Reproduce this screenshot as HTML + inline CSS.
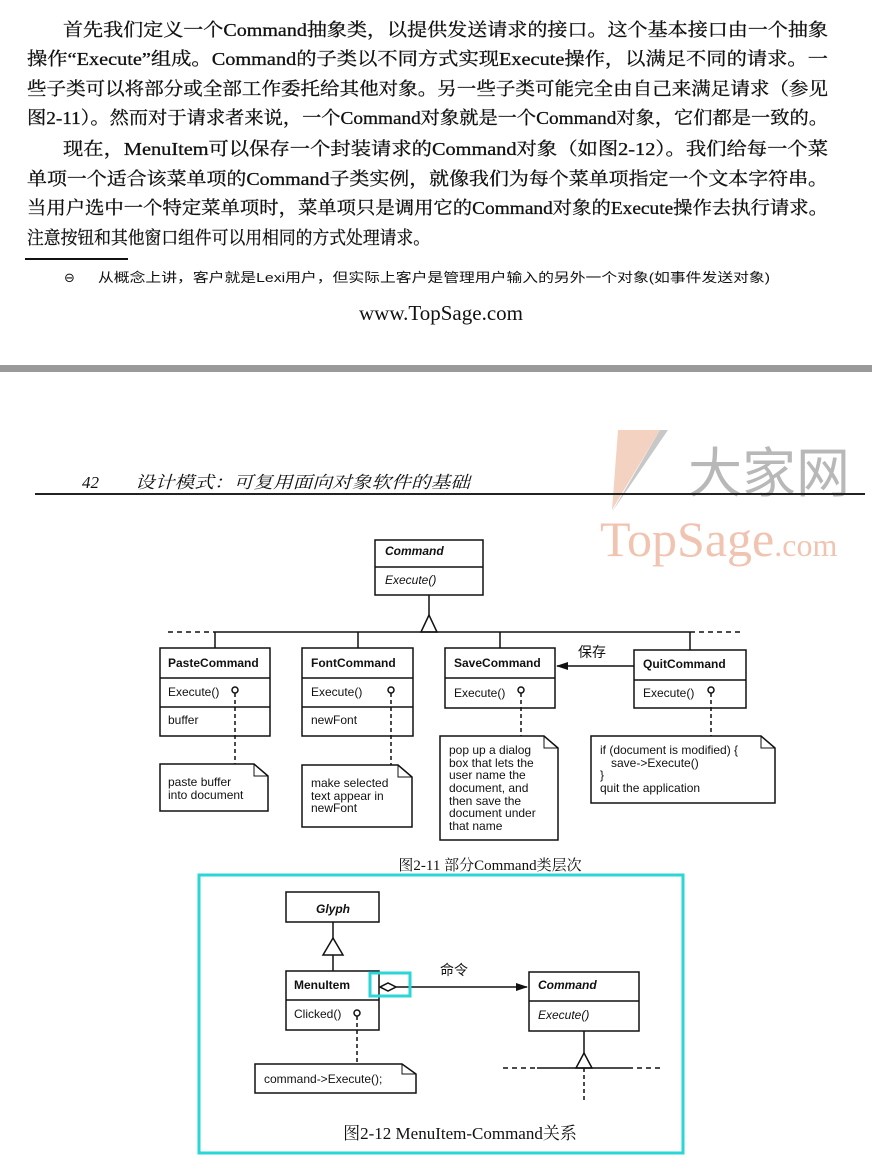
<!DOCTYPE html>
<html><head><meta charset="utf-8"><style>
html,body{margin:0;padding:0;background:#fff;}
svg{display:block}
.b{font-family:"Liberation Serif","Noto Serif CJK SC","Noto Sans CJK SC",serif;font-size:18px;fill:#111;stroke:#111;stroke-width:0.3}
.u{font-family:"Liberation Sans",sans-serif;font-weight:bold;font-size:12px;fill:#111}
.n{font-family:"Liberation Sans",sans-serif;font-size:12px;fill:#111}
.i{font-family:"Liberation Sans",sans-serif;font-style:italic;font-size:12px;fill:#111}
.bi{font-family:"Liberation Sans",sans-serif;font-style:italic;font-weight:bold;font-size:12px;fill:#111}
.c{font-family:"Liberation Serif","Noto Serif CJK SC",serif;font-size:15px;fill:#111}
.k{font-family:"Liberation Sans","Noto Sans CJK SC",sans-serif;font-size:14px;fill:#111}
</style></head><body>
<svg width="872" height="1170" viewBox="0 0 872 1170" xmlns="http://www.w3.org/2000/svg">
<defs>
<marker id="fa" markerWidth="12" markerHeight="8" refX="11" refY="4" orient="auto" markerUnits="userSpaceOnUse"><path d="M0,0 L12,4 L0,8 Z" fill="#111"/></marker>
</defs>
<g class="b">
<text x="63" y="36" textLength="765" lengthAdjust="spacingAndGlyphs">首先我们定义一个Command抽象类，以提供发送请求的接口。这个基本接口由一个抽象</text>
<text x="27" y="65" textLength="801" lengthAdjust="spacingAndGlyphs">操作“Execute”组成。Command的子类以不同方式实现Execute操作，以满足不同的请求。一</text>
<text x="27" y="95" textLength="801" lengthAdjust="spacingAndGlyphs">些子类可以将部分或全部工作委托给其他对象。另一些子类可能完全由自己来满足请求（参见</text>
<text x="27" y="124" textLength="801" lengthAdjust="spacingAndGlyphs">图2-11）。然而对于请求者来说，一个Command对象就是一个Command对象，它们都是一致的。</text>
<text x="63" y="155" textLength="765" lengthAdjust="spacingAndGlyphs">现在，MenuItem可以保存一个封装请求的Command对象（如图2-12）。我们给每一个菜</text>
<text x="27" y="185" textLength="801" lengthAdjust="spacingAndGlyphs">单项一个适合该菜单项的Command子类实例，就像我们为每个菜单项指定一个文本字符串。</text>
<text x="27" y="214" textLength="801" lengthAdjust="spacingAndGlyphs">当用户选中一个特定菜单项时，菜单项只是调用它的Command对象的Execute操作去执行请求。</text>
<text x="27" y="244" textLength="403" lengthAdjust="spacingAndGlyphs">注意按钮和其他窗口组件可以用相同的方式处理请求。</text>
</g>
<line x1="25" y1="259" x2="128" y2="259" stroke="#111" stroke-width="2"/>
<text x="64" y="282" style="font-family:'DejaVu Sans',sans-serif;font-size:13px;fill:#111">⊖</text>
<text x="98" y="282" textLength="672" lengthAdjust="spacingAndGlyphs" style="font-family:'Liberation Sans','Noto Sans CJK SC',sans-serif;font-size:13px;fill:#111">从概念上讲，客户就是Lexi用户，但实际上客户是管理用户输入的另外一个对象(如事件发送对象)</text>
<text x="441" y="320" text-anchor="middle" style="font-family:'Liberation Serif',serif;font-size:21px;fill:#111">www.TopSage.com</text>
<rect x="0" y="365" width="872" height="7" fill="#9a9a9a"/>
<!-- watermark -->
<polygon points="618,430 660,430 612,510" fill="#f3d2c2"/>
<polygon points="660,430 668,430 612,512" fill="#c8c8c8"/>
<text x="688" y="492" style="font-family:'Noto Sans CJK SC',sans-serif;font-size:54px;fill:#b8b8b8">大家网</text>
<text x="600" y="556" style="font-family:'Liberation Serif',serif;font-size:50px;fill:#f0c4b0">TopSage<tspan font-size="32">.com</tspan></text>
<!-- header -->
<text x="82" y="488" style="font-family:'Liberation Serif',serif;font-style:italic;font-size:17px;fill:#111">42</text>
<text x="135" y="488" textLength="335" lengthAdjust="spacingAndGlyphs" style="font-family:'Noto Serif CJK SC',serif;font-style:italic;font-size:17px;fill:#111">设计模式：可复用面向对象软件的基础</text>
<line x1="35" y1="494" x2="865" y2="494" stroke="#222" stroke-width="2"/>
<g stroke="#111" stroke-width="1.5" fill="none">
<rect x="375" y="540" width="108" height="55" fill="#fff"/>
<line x1="375" y1="567" x2="483" y2="567"/>
<line x1="429" y1="595" x2="429" y2="615"/>
<polygon points="429,615 421,632 437,632" fill="#fff"/>
<line x1="213" y1="632" x2="690" y2="632"/>
<line x1="168" y1="632" x2="213" y2="632" stroke-dasharray="5,4"/>
<line x1="690" y1="632" x2="740" y2="632" stroke-dasharray="5,4"/>
<line x1="215" y1="632" x2="215" y2="648"/>
<line x1="358" y1="632" x2="358" y2="648"/>
<line x1="500" y1="632" x2="500" y2="648"/>
<line x1="690" y1="632" x2="690" y2="650"/>
<rect x="160" y="648" width="110" height="88"/>
<line x1="160" y1="678" x2="270" y2="678"/><line x1="160" y1="707" x2="270" y2="707"/>
<rect x="302" y="648" width="111" height="88"/>
<line x1="302" y1="678" x2="413" y2="678"/><line x1="302" y1="707" x2="413" y2="707"/>
<rect x="445" y="648" width="110" height="60"/>
<line x1="445" y1="678" x2="555" y2="678"/>
<rect x="634" y="650" width="112" height="58"/>
<line x1="634" y1="680" x2="746" y2="680"/>
<line x1="634" y1="666" x2="557" y2="666" marker-end="url(#fa)"/>
<circle cx="235" cy="690" r="3"/><line x1="235" y1="693" x2="235" y2="764" stroke-dasharray="4,3"/>
<circle cx="391" cy="690" r="3"/><line x1="391" y1="693" x2="391" y2="765" stroke-dasharray="4,3"/>
<circle cx="521" cy="690" r="3"/><line x1="521" y1="693" x2="521" y2="736" stroke-dasharray="4,3"/>
<circle cx="711" cy="690" r="3"/><line x1="711" y1="693" x2="711" y2="736" stroke-dasharray="4,3"/>
<path d="M160,764 H254 L268,776 V811 H160 Z"/><path d="M254,764 V776 H268" stroke-width="1"/>
<path d="M302,765 H398 L412,777 V827 H302 Z"/><path d="M398,765 V777 H412" stroke-width="1"/>
<path d="M440,736 H544 L558,748 V840 H440 Z"/><path d="M544,736 V748 H558" stroke-width="1"/>
<path d="M591,736 H761 L775,748 V803 H591 Z"/><path d="M761,736 V748 H775" stroke-width="1"/>
</g>
<text x="385" y="555" class="bi">Command</text>
<text x="385" y="584" class="i">Execute()</text>
<g class="u">
<text x="168" y="667">PasteCommand</text><text x="311" y="667">FontCommand</text>
<text x="454" y="667">SaveCommand</text><text x="643" y="668">QuitCommand</text>
</g>
<g class="n">
<text x="168" y="696">Execute()</text><text x="168" y="724">buffer</text>
<text x="311" y="696">Execute()</text><text x="311" y="724">newFont</text>
<text x="454" y="697">Execute()</text><text x="643" y="697">Execute()</text>
<text x="168" y="786">paste buffer</text><text x="168" y="799">into document</text>
<text x="311" y="787">make selected</text><text x="311" y="800">text appear in</text><text x="311" y="812">newFont</text>
<text x="449" y="754">pop up a dialog</text><text x="449" y="767">box that lets the</text><text x="449" y="779">user name the</text><text x="449" y="792">document, and</text><text x="449" y="805">then save the</text><text x="449" y="817">document under</text><text x="449" y="830">that name</text>
<text x="600" y="754">if (document is modified) {</text><text x="611" y="767">save-&gt;Execute()</text><text x="600" y="779">}</text><text x="600" y="792">quit the application</text>
</g>
<text x="578" y="657" class="k">保存</text>
<text x="490" y="870" text-anchor="middle" class="c">图2-11   部分Command类层次</text>
<rect x="199" y="875" width="484" height="278" fill="none" stroke="#2ad6d6" stroke-width="3"/>
<g stroke="#111" stroke-width="1.5" fill="none">
<rect x="286" y="892" width="93" height="30"/>
<line x1="333" y1="922" x2="333" y2="938"/>
<polygon points="333,938 323,955 343,955" fill="#fff"/>
<line x1="333" y1="955" x2="333" y2="971"/>
<rect x="286" y="971" width="93" height="59"/>
<line x1="286" y1="1000" x2="379" y2="1000"/>
<polygon points="380,987 388,983 396,987 388,991" fill="#fff"/>
<line x1="396" y1="987" x2="527" y2="987" marker-end="url(#fa)"/>
<rect x="529" y="972" width="110" height="59"/>
<line x1="529" y1="1001" x2="639" y2="1001"/>
<line x1="584" y1="1031" x2="584" y2="1053"/>
<polygon points="584,1053 576,1068 592,1068" fill="#fff"/>
<line x1="537" y1="1068" x2="628" y2="1068"/>
<line x1="503" y1="1068" x2="537" y2="1068" stroke-dasharray="5,4"/>
<line x1="628" y1="1068" x2="663" y2="1068" stroke-dasharray="5,4"/>
<line x1="584" y1="1068" x2="584" y2="1100" stroke-dasharray="4,3"/>
<circle cx="357" cy="1013" r="3"/><line x1="357" y1="1016" x2="357" y2="1064" stroke-dasharray="4,3"/>
<path d="M255,1064 H402 L416,1074 V1093 H255 Z"/><path d="M402,1064 V1074 H416" stroke-width="1"/>
</g>
<rect x="370" y="973" width="40" height="23" fill="none" stroke="#2ad6d6" stroke-width="3"/>
<text x="316" y="913" class="bi">Glyph</text>
<text x="294" y="989" class="u">MenuItem</text>
<text x="294" y="1018" class="n">Clicked()</text>
<text x="538" y="989" class="bi">Command</text>
<text x="538" y="1019" class="i">Execute()</text>
<text x="264" y="1083" class="n">command-&gt;Execute();</text>
<text x="440" y="975" class="k">命令</text>
<text x="460" y="1139" text-anchor="middle" class="c" style="font-size:17px">图2-12   MenuItem-Command关系</text>
</svg>
</body></html>
